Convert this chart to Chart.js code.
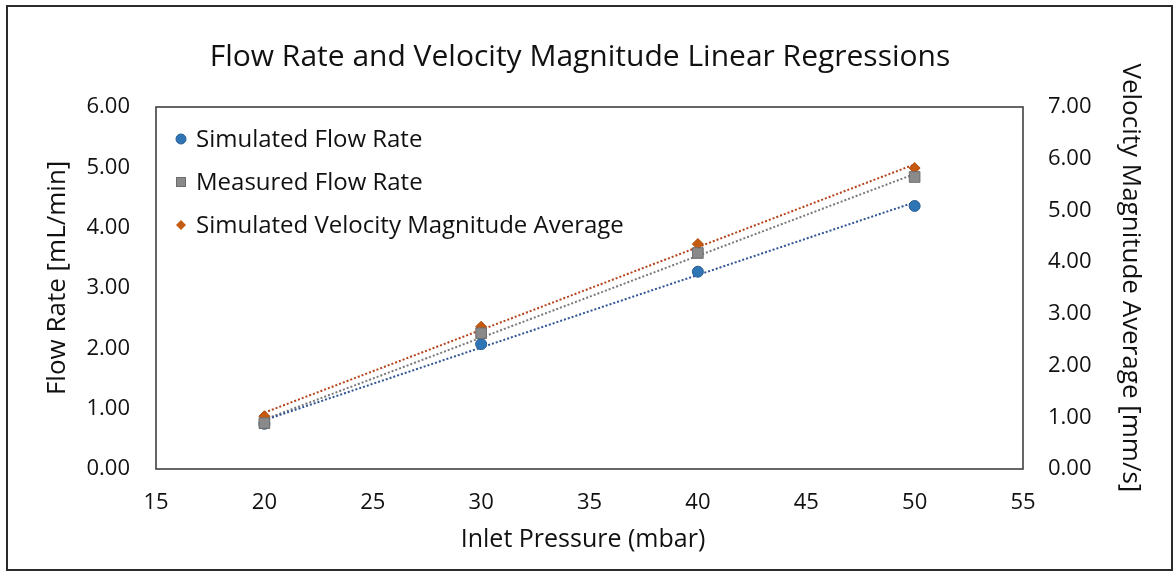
<!DOCTYPE html>
<html>
<head>
<meta charset="utf-8">
<script src="https://cdn.jsdelivr.net/npm/chart.js@4/dist/chart.umd.min.js"></script>
<style>
  html, body { margin: 0; padding: 0; background: #fff; }
  #wrap { position: relative; width: 1174px; height: 572px; }
  canvas { display: block; }
</style>
</head>
<body>
<div id="wrap"><canvas id="c" width="1174" height="572"></canvas></div>
<script>
// ---- data ----
const pressures = [20, 30, 40, 50];
const simulatedFlowRate = [0.75, 2.07, 3.27, 4.36];
const measuredFlowRate = [0.76, 2.25, 3.58, 4.84];
const simulatedVelocity = [1.02, 2.75, 4.35, 5.82];
// trendline endpoints (at 20 and 50 mbar)
const trendPressures = [20, 50];
const simulatedFlowTrend = [0.81, 4.42];
const measuredFlowTrend = [0.82, 4.89];
const simulatedVelocityTrend = [1.09, 5.89];
// axis tick values
const xTicks = [15, 20, 25, 30, 35, 40, 45, 50, 55];
const leftTicks = [0, 1, 2, 3, 4, 5, 6];
const rightTicks = [0, 1, 2, 3, 4, 5, 6, 7];
const seriesNames = ['Simulated Flow Rate', 'Measured Flow Rate', 'Simulated Velocity Magnitude Average'];
const chartTitle = 'Flow Rate and Velocity Magnitude Linear Regressions';

const FONT = '"Open Sans"';
const toXY = (xs, ys) => xs.map((x, i) => ({ x: x, y: ys[i] }));

const COLORS = {
  blue: '#2E75B6', blueEdge: '#2A5E92', blueLine: '#2F5597',
  gray: '#8A8A8A', grayEdge: '#6B6B6B', grayLine: '#7A7A7A',
  orange: '#C55A11', orangeEdge: '#B04A0A', orangeLine: '#B4431B'
};

const frame = {
  id: 'frame',
  beforeDraw(chart) {
    const ctx = chart.ctx;
    ctx.save();
    ctx.fillStyle = '#fff';
    ctx.fillRect(0, 0, chart.width, chart.height);
    ctx.strokeStyle = '#2b2b2b';
    ctx.lineWidth = 2;
    ctx.strokeRect(7, 6, 1165, 564);
    // chart title
    ctx.font = '30px ' + FONT;
    ctx.fillStyle = '#111';
    ctx.textAlign = 'center';
    ctx.textBaseline = 'middle';
    ctx.fillText(chartTitle, 580, 57);
    ctx.restore();
  },
  beforeDatasetsDraw(chart) {
    const a = chart.chartArea, ctx = chart.ctx;
    ctx.save();
    ctx.strokeStyle = '#404040';
    ctx.lineWidth = 1.6;
    ctx.strokeRect(a.left, a.top, a.right - a.left, a.bottom - a.top);
    ctx.restore();
  },
  afterDraw(chart) {
    const ctx = chart.ctx, a = chart.chartArea;
    ctx.save();
    ctx.font = '24px ' + FONT;
    ctx.textBaseline = 'middle';
    ctx.fillStyle = '#111';
    const mx = a.left + 25, tx = a.left + 40;
    const rows = [a.top + 32, a.top + 75, a.top + 118];
    // circle
    ctx.beginPath(); ctx.arc(mx, rows[0], 5, 0, Math.PI * 2);
    ctx.fillStyle = COLORS.blue; ctx.fill(); ctx.strokeStyle = COLORS.blueEdge; ctx.lineWidth = 1; ctx.stroke();
    // square
    ctx.fillStyle = COLORS.gray; ctx.fillRect(mx - 4.5, rows[1] - 4.5, 9, 9);
    ctx.strokeStyle = COLORS.grayEdge; ctx.strokeRect(mx - 4.5, rows[1] - 4.5, 9, 9);
    // diamond
    ctx.beginPath(); ctx.moveTo(mx, rows[2] - 5); ctx.lineTo(mx + 5, rows[2]); ctx.lineTo(mx, rows[2] + 5); ctx.lineTo(mx - 5, rows[2]); ctx.closePath();
    ctx.fillStyle = COLORS.orange; ctx.fill();
    ctx.fillStyle = '#111';
    seriesNames.forEach((n, i) => ctx.fillText(n, tx, rows[i] + 1));
    ctx.restore();
  }
};

const ctx = document.getElementById('c').getContext('2d');
new Chart(ctx, {
  type: 'scatter',
  data: {
    datasets: [
      { label: seriesNames[1], data: toXY(pressures, measuredFlowRate), yAxisID: 'y',
        pointStyle: 'rect', pointRadius: 7.5, backgroundColor: COLORS.gray, borderColor: COLORS.grayEdge, borderWidth: 1, showLine: false },
      { label: seriesNames[2], data: toXY(pressures, simulatedVelocity), yAxisID: 'y1',
        pointStyle: 'rectRot', pointRadius: 5.5, backgroundColor: COLORS.orange, borderColor: COLORS.orangeEdge, borderWidth: 1, showLine: false },
      { label: seriesNames[0], data: toXY(pressures, simulatedFlowRate), yAxisID: 'y',
        pointStyle: 'circle', pointRadius: 5.5, backgroundColor: COLORS.blue, borderColor: COLORS.blueEdge, borderWidth: 1, showLine: false },
      { label: 'trend1', data: toXY(trendPressures, simulatedFlowTrend), yAxisID: 'y', showLine: true,
        pointRadius: 0, borderColor: COLORS.blueLine, borderWidth: 2, borderDash: [2, 2], fill: false },
      { label: 'trend2', data: toXY(trendPressures, measuredFlowTrend), yAxisID: 'y', showLine: true,
        pointRadius: 0, borderColor: COLORS.grayLine, borderWidth: 2, borderDash: [2, 2], fill: false },
      { label: 'trend3', data: toXY(trendPressures, simulatedVelocityTrend), yAxisID: 'y1', showLine: true,
        pointRadius: 0, borderColor: COLORS.orangeLine, borderWidth: 2, borderDash: [2, 2], fill: false }
    ]
  },
  options: {
    responsive: false,
    animation: false,
    devicePixelRatio: 1,
    layout: { padding: { left: 40, right: 28, top: 107, bottom: 10 } },
    plugins: {
      legend: { display: false },
      tooltip: { enabled: false },
      title: { display: false }
    },
    scales: {
      x: {
        type: 'linear', min: 15, max: 55,
        afterBuildTicks: s => { s.ticks = xTicks.map(v => ({ value: v })); },
        afterFit: s => { s.height = 93; },
        grid: { display: false, drawTicks: false },
        border: { display: false },
        ticks: { padding: 21, color: '#111', font: { family: FONT, size: 22 }, maxRotation: 0, autoSkip: false },
        title: { display: true, text: 'Inlet Pressure (mbar)  ', color: '#111', font: { family: FONT, size: 25 }, padding: { top: 0, bottom: 7 } }
      },
      y: {
        type: 'linear', position: 'left', min: 0, max: 6,
        afterBuildTicks: s => { s.ticks = leftTicks.map(v => ({ value: v })); },
        afterFit: s => { s.width = 116; },
        grid: { display: false, drawTicks: false },
        border: { display: false },
        ticks: { padding: 26, color: '#111', font: { family: FONT, size: 22 }, callback: v => Number(v).toFixed(2) },
        title: { display: true, text: '   Flow Rate [mL/min]', color: '#111', font: { family: FONT, size: 26 }, padding: { top: 2, bottom: 0 } }
      },
      y1: {
        type: 'linear', position: 'right', min: 0, max: 7,
        afterBuildTicks: s => { s.ticks = rightTicks.map(v => ({ value: v })); },
        afterFit: s => { s.width = 123; },
        grid: { display: false, drawTicks: false },
        border: { display: false },
        ticks: { padding: 25, color: '#111', font: { family: FONT, size: 22 }, callback: v => Number(v).toFixed(2) },
        title: { display: true, text: 'Velocity Magnitude Average [mm/s]   ', color: '#111', font: { family: FONT, size: 26 }, padding: { top: 0, bottom: 0 } }
      }
    }
  },
  plugins: [frame]
});
</script>
</body>
</html>
